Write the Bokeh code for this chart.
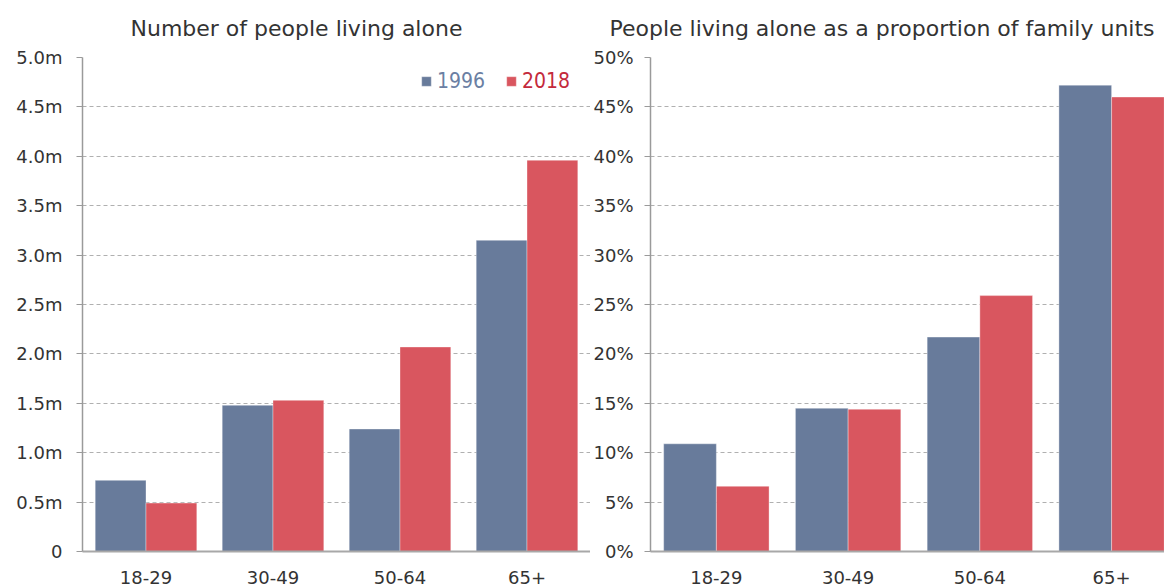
from bokeh.plotting import figure
from bokeh.layouts import row
from bokeh.models import (ColumnDataSource, Range1d, FixedTicker, Legend, LegendItem,
                          PrintfTickFormatter, Title)
from bokeh.transform import dodge
from bokeh.embed import file_html
from bokeh.resources import INLINE

# Age bands and series
age_groups = ["18-29", "30-49", "50-64", "65+"]
years = ["1996", "2018"]

# Number of people living alone (millions)
alone_1996 = [0.72, 1.48, 1.24, 3.15]
alone_2018 = [0.49, 1.53, 2.07, 3.96]

# People living alone as a share of family units (%)
share_1996 = [10.9, 14.5, 21.7, 47.2]
share_2018 = [6.6, 14.4, 25.9, 46.0]

million_ticks = [0, 0.5, 1.0, 1.5, 2.0, 2.5, 3.0, 3.5, 4.0, 4.5, 5.0]
million_labels = ["0", "0.5m", "1.0m", "1.5m", "2.0m", "2.5m", "3.0m", "3.5m", "4.0m", "4.5m", "5.0m"]
percent_ticks = [0, 5, 10, 15, 20, 25, 30, 35, 40, 45, 50]

FONT = "DejaVu Sans"
LEGEND_FONT = "DejaVu Sans Condensed"
BLUE = "#687b9b"
RED = "#d9565f"
BLUE_TEXT = "#6b7fa3"
RED_TEXT = "#c42a3c"
TEXT = "#333333"


def make_panel(title, v96, v18, width, left_border, x_end, y_end, title_offset, label_standoff):
    src = ColumnDataSource(dict(x=list(range(len(age_groups))), v96=v96, v18=v18))
    p = figure(width=width, height=587, output_backend="svg", toolbar_location=None,
               x_range=Range1d(-0.5, x_end), y_range=Range1d(0, y_end),
               min_border_left=left_border, min_border_right=0,
               min_border_top=57, min_border_bottom=36)
    p.outline_line_color = None
    p.background_fill_color = "white"
    p.border_fill_color = "white"

    r96 = p.vbar(x=dodge("x", -0.2), top="v96", width=0.4, source=src,
                 fill_color=BLUE, line_color="white", line_alpha=0.35, line_width=1)
    r18 = p.vbar(x=dodge("x", 0.2), top="v18", width=0.4, source=src,
                 fill_color=RED, line_color="white", line_alpha=0.35, line_width=1)

    t = Title(text=title, align="left", offset=title_offset, text_font=FONT,
              text_font_size="22px", text_font_style="normal", text_color=TEXT,
              vertical_align="top", standoff=30)
    p.add_layout(t, "above")

    xa = p.xaxis[0]
    xa.ticker = FixedTicker(ticks=list(range(len(age_groups))))
    xa.major_label_overrides = {i: g for i, g in enumerate(age_groups)}
    xa.major_tick_line_color = None
    xa.minor_tick_line_color = None
    xa.axis_line_color = "#a8a8a8"
    xa.axis_line_width = 2
    xa.major_label_text_font = FONT
    xa.major_label_text_font_size = "18px"
    xa.major_label_text_color = TEXT
    xa.major_label_standoff = 13

    ya = p.yaxis[0]
    ya.axis_line_color = "#9a9a9a"
    ya.axis_line_width = 1.5
    ya.major_tick_line_color = "#9a9a9a"
    ya.major_tick_out = 6
    ya.major_tick_in = 0
    ya.minor_tick_line_color = None
    ya.major_label_text_font = FONT
    ya.major_label_text_font_size = "18px"
    ya.major_label_text_color = TEXT
    ya.major_label_standoff = label_standoff

    p.xgrid.grid_line_color = None
    p.ygrid.grid_line_color = "#b0b0b0"
    p.ygrid.grid_line_dash = "4 3"
    p.ygrid.grid_line_width = 1
    return p, r96, r18


p1, b96, b18 = make_panel("Number of people living alone", alone_1996, alone_2018,
                          590, 82, 3.5, 5.0, 48, 14)
p1.yaxis[0].ticker = FixedTicker(ticks=million_ticks)
p1.yaxis[0].major_label_overrides = {t: s for t, s in zip(million_ticks, million_labels)}
p1.ygrid[0].ticker = FixedTicker(ticks=million_ticks)

p2, _, _ = make_panel("People living alone as a proportion of family units", share_1996, share_2018,
                      574, 59, 3.4015, 50, -41, 11)
p2.yaxis[0].ticker = FixedTicker(ticks=percent_ticks)
p2.yaxis[0].formatter = PrintfTickFormatter(format="%d%%")
p2.ygrid[0].ticker = FixedTicker(ticks=percent_ticks)

# Legend: one entry per year so each label carries its series colour
for rend, label, color, xpos in [(b96, years[0], BLUE_TEXT, 338), (b18, years[1], RED_TEXT, 423)]:
    lg = Legend(items=[LegendItem(label=label, renderers=[rend])], location=(xpos, 458),
                orientation="horizontal", padding=0, margin=0, spacing=0,
                glyph_width=12, glyph_height=12, label_standoff=5,
                label_text_font=LEGEND_FONT, label_text_font_size="21px", label_text_color=color,
                border_line_color=None, background_fill_alpha=0)
    p1.add_layout(lg)

layout = row(p1, p2)
open("out.html", "w").write(file_html(layout, INLINE))
